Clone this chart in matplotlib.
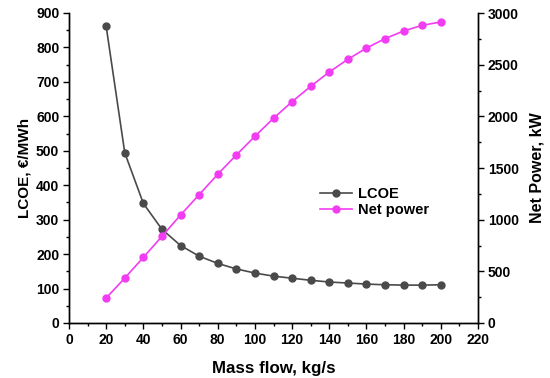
import matplotlib
matplotlib.use("Agg")
import matplotlib.pyplot as plt
from matplotlib.ticker import MultipleLocator

mass_flow = [20, 30, 40, 50, 60, 70, 80, 90, 100, 110, 120, 130, 140, 150, 160, 170, 180, 190, 200]
lcoe = [861, 494, 347, 272, 225, 194, 173, 157, 145, 136, 130, 124, 119, 116, 113, 111, 110, 110, 111]
net_power = [242, 435, 635, 839, 1045, 1242, 1439, 1626, 1807, 1981, 2142, 2290, 2429, 2552, 2661, 2752, 2826, 2881, 2913]

plt.rcParams['font.family'] = ['Liberation Sans', 'DejaVu Sans']
plt.rcParams['font.weight'] = 'bold'

fig = plt.figure(figsize=(5.5, 3.78), dpi=100)
ax = fig.add_axes([69/550, 1-323/378, (478-69)/550, (323-13)/378])
ax2 = ax.twinx()

gray = '#4a4a4a'
mag = '#f23cf2'
l1, = ax.plot(mass_flow, lcoe, '-o', color=gray, lw=1.2, ms=5, label='LCOE')
l2, = ax2.plot(mass_flow, net_power, '-o', color=mag, lw=1.2, ms=5, label='Net power')

ax.set_xlim(0, 220)
ax.set_ylim(0, 900)
ax2.set_ylim(0, 3000)
ax.xaxis.set_major_locator(MultipleLocator(20))
ax.xaxis.set_minor_locator(MultipleLocator(10))
ax.yaxis.set_major_locator(MultipleLocator(100))
ax.yaxis.set_minor_locator(MultipleLocator(50))
ax2.yaxis.set_major_locator(MultipleLocator(500))
ax2.yaxis.set_minor_locator(MultipleLocator(250))

for a in (ax, ax2):
    a.spines['top'].set_visible(False)
    for s in a.spines.values():
        s.set_linewidth(1.0)
    a.tick_params(which='major', direction='out', length=4, width=1.0, labelsize=10, pad=3)
    a.tick_params(which='minor', direction='out', length=2.5, width=1.0)
for lab in ax.get_xticklabels() + ax.get_yticklabels() + ax2.get_yticklabels():
    lab.set_fontweight('bold')

ax.set_xlabel('Mass flow, kg/s', fontsize=12.2, fontweight='bold', labelpad=10)
ax.set_ylabel('LCOE, €/MWh', fontsize=11, fontweight='bold', labelpad=3)
ax2.set_ylabel('Net Power, kW', fontsize=11.5, fontweight='bold', labelpad=8)

leg = ax.legend([l1, l2], ['LCOE', 'Net power'], loc='upper left',
                bbox_to_anchor=(320/550, 1-187/378), bbox_transform=fig.transFigure,
                frameon=False, fontsize=10.5, handlelength=2.2, handletextpad=0.4,
                labelspacing=0.15, borderpad=0, borderaxespad=0)
for t in leg.get_texts():
    t.set_fontweight('bold')

fig.savefig('out.png', dpi=100)
